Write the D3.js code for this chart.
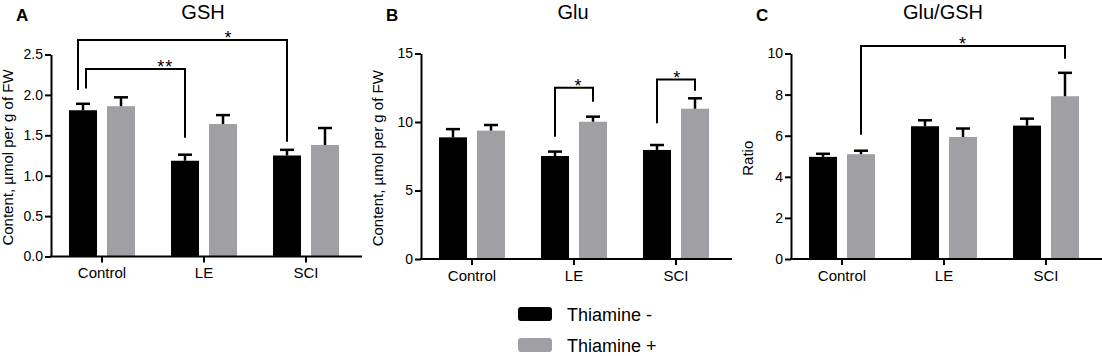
<!DOCTYPE html>
<html>
<head>
<meta charset="utf-8">
<script src="https://cdn.jsdelivr.net/npm/d3@7"></script>
<style>
  body { margin: 0; background: white; }
  svg text { font-family: "Liberation Sans", Arial, sans-serif; fill: #000; }
  .domain { stroke-width: 2px; }
  .tick line { stroke-width: 2px; }
</style>
</head>
<body>
<svg id="graphic-svg" width="1102" height="356"></svg>
<script>
////////////////////////////////////////////////////////////////////////////////////
// Data
var categories = ["Control", "LE", "SCI"];
var series = ["Thiamine -", "Thiamine +"];

var gshMean = [[1.81, 1.86], [1.185, 1.64], [1.25, 1.38]]; // [category][series]
var gshErr  = [[0.08, 0.11], [0.075, 0.11], [0.07, 0.21]];
var gluMean = [[8.88, 9.37], [7.52, 10.02], [7.96, 10.97]];
var gluErr  = [[0.6, 0.41], [0.32, 0.37], [0.36, 0.76]];
var ratioMean = [[4.97, 5.1], [6.46, 5.94], [6.49, 7.92]];
var ratioErr  = [[0.15, 0.17], [0.29, 0.41], [0.34, 1.14]];

var gshTicks = [0, 0.5, 1.0, 1.5, 2.0, 2.5];
var gluTicks = [0, 5, 10, 15];
var ratioTicks = [0, 2, 4, 6, 8, 10];

// significance brackets: from [cat, ser] to [cat, ser], bar level, leg bottoms, label, where label sits (0..1)
var gshBrackets = [
  {from: [0, 0], to: [2, 0], level: 2.68, left: 2.06, right: 1.42, label: "*", at: 0.72},
  {from: [0, 0], to: [1, 0], level: 2.32, left: 2.08, right: 1.47, label: "**", at: 0.8}
];
var gluBrackets = [
  {from: [1, 0], to: [1, 1], level: 12.5, left: 8.93, right: 11.48, label: "*", at: 0.62},
  {from: [2, 0], to: [2, 1], level: 13.1, left: 9.9, right: 12.28, label: "*", at: 0.53}
];
var ratioBrackets = [
  {from: [0, 1], to: [2, 1], level: 10.36, left: 6.05, right: 9.74, label: "*", at: 0.5}
];

// Colors
var black = "#000000";
var grey = d3.rgb(160, 160, 164);
var colors = [black, grey];

var svg = d3.select("#graphic-svg");

////////////////////////////////////////////////////////////////////////////////////
// Draw one panel
function drawPanel(opt) {
  var g = svg.append("g").attr("transform", "translate(" + opt.x + ",0)");

  var x0 = d3.scaleBand().domain(categories).range([51, 357]);
  var x1 = d3.scaleBand().domain(series).range([18, 84]).paddingInner(0.263);
  var y = d3.scaleLinear().domain([0, opt.ticks[opt.ticks.length - 1]]).range([opt.y0, opt.y1]);

  function cx(c, s) { return x0(categories[c]) + x1(series[s]) + x1.bandwidth() / 2; }

  // letter + title
  g.append("text").attr("x", 16).attr("y", 20.5)
   .style("font-size", "17px").style("font-weight", "bold").text(opt.letter);
  g.append("text").attr("x", 203).attr("y", 18.5)
   .attr("text-anchor", "middle").style("font-size", "20px").text(opt.title);

  // bars
  var rows = [];
  opt.mean.forEach(function(m, c) {
    m.forEach(function(v, s) { rows.push({c: c, s: s, v: v, e: opt.err[c][s]}); });
  });

  g.selectAll(".bar")
   .data(rows)
   .enter()
   .append("rect")
   .attr("class", "bar")
   .attr("x", function(d) { return x0(categories[d.c]) + x1(series[d.s]); })
   .attr("y", function(d) { return y(d.v); })
   .attr("width", x1.bandwidth())
   .attr("height", function(d) { return y(0) - y(d.v); })
   .style("fill", function(d) { return colors[d.s]; });

  // error bars (upper only, always black)
  var eb = g.selectAll(".err").data(rows).enter().append("g").attr("class", "err")
            .style("stroke", "#000")
            .style("stroke-width", 2.5);
  eb.append("line")
    .attr("x1", function(d) { return cx(d.c, d.s); })
    .attr("x2", function(d) { return cx(d.c, d.s); })
    .attr("y1", function(d) { return y(d.v); })
    .attr("y2", function(d) { return y(d.v + d.e); });
  eb.append("line")
    .attr("x1", function(d) { return cx(d.c, d.s) - 7; })
    .attr("x2", function(d) { return cx(d.c, d.s) + 7; })
    .attr("y1", function(d) { return y(d.v + d.e); })
    .attr("y2", function(d) { return y(d.v + d.e); });

  // axes
  var yAxis = g.append("g").attr("transform", "translate(51,0)")
               .call(d3.axisLeft(y).tickValues(opt.ticks).tickSize(6).tickPadding(2)
                       .tickFormat(opt.fmt).tickSizeOuter(0));
  yAxis.selectAll("text").style("font-size", "14px");

  var xAxis = g.append("g").attr("transform", "translate(0," + y(0) + ")")
               .call(d3.axisBottom(x0).tickSize(6).tickPadding(5).tickSizeOuter(0));
  xAxis.select(".domain").attr("d", "M50,0H362");
  xAxis.selectAll("text").style("font-size", "15px");

  // y label
  g.append("text")
   .attr("transform", "translate(13," + ((opt.y0 + opt.y1) / 2 + 2) + ") rotate(-90)")
   .attr("text-anchor", "middle")
   .style("font-size", "15px")
   .text(opt.ylabel);

  // brackets
  opt.brackets.forEach(function(b, i) {
    var nudge = opt.nudge ? opt.nudge[i] : 0;
    var xl = cx(b.from[0], b.from[1]) + nudge;
    var xr = cx(b.to[0], b.to[1]);
    g.append("path")
     .attr("d", "M" + xl + "," + y(b.left) + "V" + y(b.level) + "H" + xr + "V" + y(b.right))
     .style("fill", "none").style("stroke", "#000").style("stroke-width", 2);
    g.append("text")
     .attr("x", xl + (xr - xl) * b.at)
     .attr("y", y(b.level) + 4)
     .attr("text-anchor", "middle")
     .style("font-size", "18px")
     .style("letter-spacing", "1px")
     .text(b.label);
  });
}; // end drawPanel

drawPanel({x: 0, letter: "A", title: "GSH", mean: gshMean, err: gshErr, ticks: gshTicks,
           fmt: d3.format(".1f"), y0: 256.5, y1: 54.5, ylabel: "Content, \u00b5mol per g of FW",
           brackets: gshBrackets, nudge: [-5, 3]});
drawPanel({x: 370, letter: "B", title: "Glu", mean: gluMean, err: gluErr, ticks: gluTicks,
           fmt: d3.format("d"), y0: 259, y1: 53.5, ylabel: "Content, \u00b5mol per g of FW",
           brackets: gluBrackets});
drawPanel({x: 740, letter: "C", title: "Glu/GSH", mean: ratioMean, err: ratioErr, ticks: ratioTicks,
           fmt: d3.format("d"), y0: 259, y1: 53.5, ylabel: "Ratio",
           brackets: ratioBrackets});

// Legend
var legend = svg.append("g").attr("transform", "translate(518,307)");
var li = legend.selectAll(".leg").data(series).enter().append("g").attr("class", "leg")
               .attr("transform", function(d, i) { return "translate(0," + (i * 31) + ")"; });
li.append("rect").attr("width", 34).attr("height", 14).attr("rx", 3)
  .style("fill", function(d, i) { return colors[i]; });
li.append("text").attr("x", 49).attr("y", 14).style("font-size", "18px")
  .text(function(d) { return d; });
</script>
</body>
</html>
